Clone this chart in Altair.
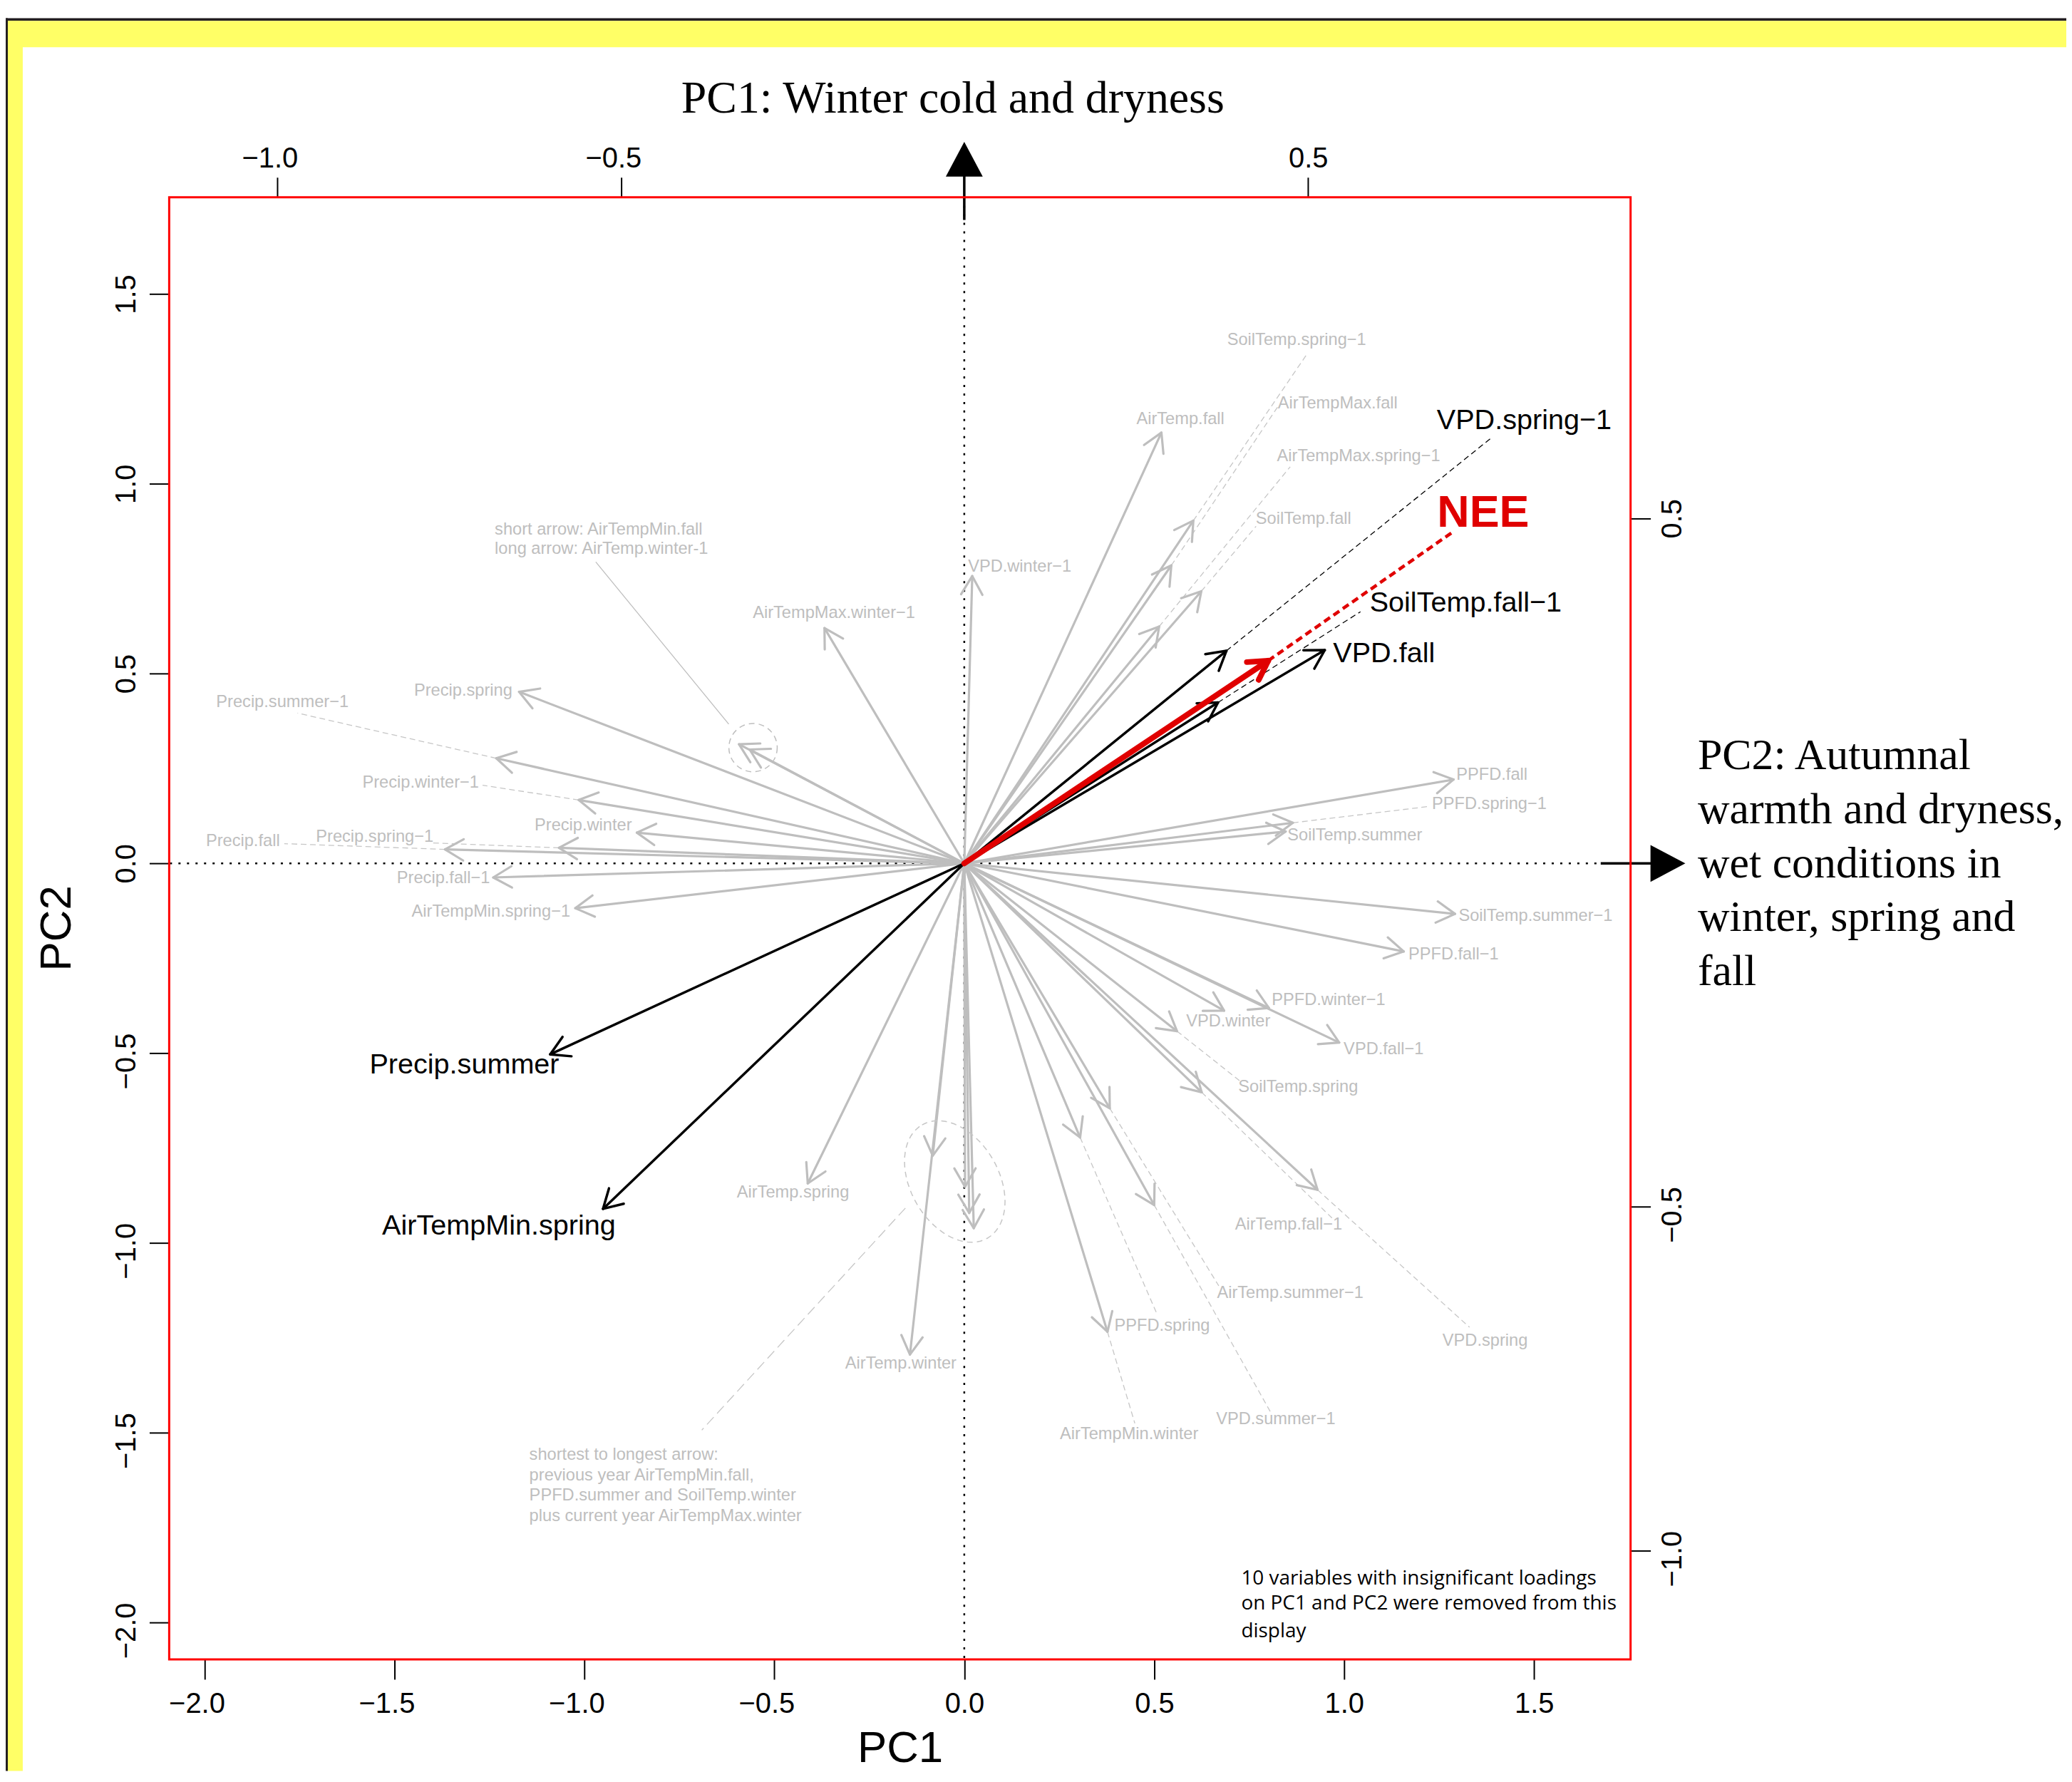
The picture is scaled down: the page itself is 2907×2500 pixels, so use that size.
import numpy as np
import pandas as pd
import altair as alt

GRAY = "#BEBEBE"
DASH_GRAY = "#C6C6C6"
RED = "#E00000"

# ---------------- loadings (arrow tips) ----------------
GRAY_NAMES = [
    "AirTemp.fall", "SoilTemp.spring-1", "AirTempMax.fall", "SoilTemp.fall", "AirTempMax.spring-1",
    "VPD.winter-1", "AirTempMax.winter-1", "AirTempMin.fall", "AirTemp.winter-1",
    "Precip.spring", "Precip.summer-1", "Precip.winter-1", "Precip.winter", "Precip.spring-1",
    "Precip.fall", "Precip.fall-1", "AirTempMin.spring-1",
    "PPFD.fall", "PPFD.spring-1", "SoilTemp.summer", "SoilTemp.summer-1", "PPFD.fall-1",
    "VPD.winter", "PPFD.winter-1", "VPD.fall-1", "SoilTemp.spring", "AirTemp.fall-1", "VPD.spring",
    "AirTemp.summer-1", "VPD.summer-1", "PPFD.spring", "AirTempMin.winter",
    "AirTemp.spring", "AirTemp.winter",
    "AirTempMin.fall-1", "PPFD.summer-1", "SoilTemp.winter-1", "AirTempMax.winter",
]
GRAY_PC1 = [0.519, 0.603, 0.545, 0.624, 0.513,
            0.021, -0.368, -0.565, -0.593,
            -1.172, -1.232, -1.015, -0.862, -1.067,
            -1.367, -1.240, -1.024,
            1.288, 0.865, 0.846, 1.292, 1.157,
            0.684, 0.802, 0.987, 0.560, 0.625, 0.930,
            0.383, 0.500, 0.305, 0.377,
            -0.412, -0.143,
            -0.083, 0.002, 0.013, 0.025]
GRAY_PC2 = [1.135, 0.903, 0.785, 0.717, 0.624,
            0.757, 0.620, 0.300, 0.314,
            0.452, 0.277, 0.167, 0.081, 0.041,
            0.037, -0.037, -0.118,
            0.221, 0.107, 0.084, -0.133, -0.232,
            -0.388, -0.381, -0.472, -0.442, -0.603, -0.860,
            -0.645, -0.900, -0.722, -1.234,
            -0.843, -1.294,
            -0.770, -0.852, -0.921, -0.961]

BLACK_NAMES = ["VPD.spring-1", "SoilTemp.fall-1", "VPD.fall", "Precip.summer", "AirTempMin.spring"]
BLACK_PC1 = [0.690, 0.668, 0.949, -1.090, -0.951]
BLACK_PC2 = [0.560, 0.424, 0.562, -0.503, -0.910]

RED_NAMES = ["NEE"]
RED_PC1 = [0.800]
RED_PC2 = [0.534]

# dashed leaders: from the arrow tip out to the label
EXT_NAMES = ["SoilTemp.spring-1", "AirTempMax.fall", "AirTempMax.spring-1", "SoilTemp.fall",
             "Precip.summer-1", "Precip.winter-1", "Precip.spring-1", "Precip.fall",
             "PPFD.spring-1", "SoilTemp.spring", "AirTemp.fall-1", "VPD.spring",
             "AirTemp.summer-1", "VPD.summer-1", "PPFD.spring", "AirTempMin.winter",
             "VPD.spring-1", "SoilTemp.fall-1", "NEE"]
EXT_PC1 = [0.903, 0.826, 0.858, 0.768,
           -1.755, -1.268, -1.404, -1.790,
           1.223, 0.728, 0.968, 1.330,
           0.670, 0.806, 0.509, 0.449,
           1.391, 1.043, 1.283]
EXT_PC2 = [1.343, 1.204, 1.045, 0.888,
           0.396, 0.206, 0.054, 0.052,
           0.150, -0.575, -0.934, -1.222,
           -1.113, -1.445, -1.191, -1.475,
           1.124, 0.663, 0.871]
EXT_GROUP = ["gray"] * 16 + ["black", "black", "red"]

# ---------------- labels ----------------
GRAY_LABELS = ["SoilTemp.spring\u22121", "AirTempMax.fall", "AirTemp.fall", "AirTempMax.spring\u22121",
               "SoilTemp.fall", "VPD.winter\u22121", "AirTempMax.winter\u22121", "Precip.spring",
               "Precip.summer\u22121", "PPFD.fall", "Precip.winter\u22121", "PPFD.spring\u22121",
               "Precip.winter", "SoilTemp.summer", "Precip.fall", "Precip.spring\u22121",
               "Precip.fall\u22121", "SoilTemp.summer\u22121", "AirTempMin.spring\u22121", "PPFD.fall\u22121",
               "PPFD.winter\u22121", "VPD.winter", "VPD.fall\u22121", "SoilTemp.spring",
               "AirTemp.spring", "AirTemp.fall\u22121", "AirTemp.summer\u22121", "PPFD.spring",
               "VPD.spring", "AirTemp.winter", "VPD.summer\u22121", "AirTempMin.winter"]
GRAY_LABEL_X = [0.875, 0.983, 0.569, 1.038,
                0.893, 0.146, -0.343, -1.319,
                -1.795, 1.389, -1.431, 1.382,
                -1.003, 1.028, -1.899, -1.552,
                -1.371, 1.504, -1.246, 1.288,
                0.959, 0.695, 1.104, 0.879,
                -0.451, 0.854, 0.858, 0.521,
                1.371, -0.167, 0.820, 0.434]
GRAY_LABEL_Y = [1.378, 1.212, 1.170, 1.073,
                0.907, 0.781, 0.659, 0.454,
                0.424, 0.234, 0.212, 0.157,
                0.100, 0.073, 0.058, 0.070,
                -0.038, -0.138, -0.128, -0.239,
                -0.360, -0.416, -0.489, -0.589,
                -0.867, -0.951, -1.131, -1.218,
                -1.257, -1.318, -1.464, -1.503]

BLACK_LABELS = ["VPD.spring\u22121", "SoilTemp.fall\u22121", "VPD.fall", "Precip.summer", "AirTempMin.spring"]
BLACK_LABEL_X = [1.474, 1.320, 1.105, -1.316, -1.225]
BLACK_LABEL_Y = [1.167, 0.686, 0.553, -0.531, -0.955]

RED_LABELS = ["NEE"]
RED_LABEL_X = [1.366]
RED_LABEL_Y = [0.923]

# ---------------- notes ----------------
NOTE_TOP = ["short arrow: AirTempMin.fall", "long arrow: AirTemp.winter-1"]
NOTE_TOP_X = [-1.236, -1.236]
NOTE_TOP_Y = [0.880, 0.828]

NOTE_LOW = ["shortest to longest arrow:", "previous year AirTempMin.fall,",
            "PPFD.summer and SoilTemp.winter", "plus current year AirTempMax.winter"]
NOTE_LOW_X = [-1.145] * 4
NOTE_LOW_Y = [-1.558, -1.612, -1.666, -1.720]

NOTE_BOX = ["10 variables with insignificant loadings", "on PC1 and PC2 were removed from this", "display"]
NOTE_BOX_X = [0.729] * 3
NOTE_BOX_Y = [-1.884, -1.951, -2.024]

LEADER_X1 = [-0.970, -0.155]
LEADER_Y1 = [0.794, -0.908]
LEADER_X2 = [-0.620, -0.691]
LEADER_Y2 = [0.367, -1.493]

CIRCLE_PC1 = [-0.556]
CIRCLE_PC2 = [0.305]
ELLIPSE_PC1 = [-0.025]
ELLIPSE_PC2 = [-0.838]

PC_TICKS = [-2.0, -1.5, -1.0, -0.5, 0.0, 0.5, 1.0, 1.5]
SEC_TICKS = [-1.0, -0.5, 0.5]
X_DOMAIN = [-2.093, 1.754]
Y_DOMAIN = [-2.097, 1.755]
TOP_DOMAIN = [-1.1576, 0.9693]
RIGHT_DOMAIN = [-1.1577, 0.9667]

RIGHT_TITLE = ["PC2: Autumnal", "warmth and dryness,", "wet conditions in", "winter, spring and", "fall"]

# ---------------- layout ----------------
W = 2056
H = 2057
PAD = {"left": 230, "top": 266, "right": 613, "bottom": 157}

XS = alt.Scale(domain=X_DOMAIN, nice=False, zero=False)
YS = alt.Scale(domain=Y_DOMAIN, nice=False, zero=False)

common_ax = dict(format=".1f", tickSize=28, tickWidth=2, tickColor="black", domain=False, grid=False,
                 labelFont="Liberation Sans", labelFontSize=40, labelColor="black",
                 labelFlush=False, labelOverlap=False, labelBound=False,
                 titleColor="black", titleFontWeight="normal")

NEG_LEFT = {"condition": {"test": "datum.value < 0", "value": -11}, "value": 0}
NEG_DOWN = {"condition": {"test": "datum.value < 0", "value": 11}, "value": 0}

XAX = alt.Axis(values=PC_TICKS, labelBaseline="alphabetic", labelPadding=47, labelOffset=NEG_LEFT,
               title="PC1", titleFont="Liberation Sans", titleFontSize=62,
               titleBaseline="alphabetic", titleAlign="center", titleX=1028, titleY=144, **common_ax)
YAX = alt.Axis(values=PC_TICKS, labelAngle=270, labelAlign="center", labelBaseline="alphabetic",
               labelPadding=20, labelOffset=NEG_DOWN,
               title="PC2", titleFont="Liberation Sans", titleFontSize=62,
               titleAngle=270, titleAlign="center", titleBaseline="alphabetic",
               titleX=-139, titleY=1028, **common_ax)


def X(f):
    return alt.X(f, type="quantitative", scale=XS, axis=XAX)


def Y(f):
    return alt.Y(f, type="quantitative", scale=YS, axis=YAX)


VHEAD = "M-0.577,1L0,0L0.577,1"
BIGHEAD = "M0,0L1.06,2L-1.06,2Z"
_t = np.linspace(0, 2 * np.pi, 73)[:-1]
ELLIPSE_SHAPE = "M" + "L".join(f"{0.674*np.sin(a):.4f},{-np.cos(a):.4f}" for a in _t) + "Z"


def arrows_df(names, xs, ys):
    d = pd.DataFrame({"name": names, "tx": xs, "ty": ys})
    d["x0"] = 0.0
    d["y0"] = 0.0
    d["ang"] = (np.degrees(np.arctan2(d["tx"], d["ty"])) + 360) % 360
    return d


gray_df = arrows_df(GRAY_NAMES, GRAY_PC1, GRAY_PC2)
black_df = arrows_df(BLACK_NAMES, BLACK_PC1, BLACK_PC2)
red_df = arrows_df(RED_NAMES, RED_PC1, RED_PC2)
all_tips = pd.concat([gray_df, black_df, red_df]).set_index("name")

ext_df = pd.DataFrame({"name": EXT_NAMES, "ex": EXT_PC1, "ey": EXT_PC2, "grp": EXT_GROUP})
ext_df["tx"] = ext_df["name"].map(all_tips["tx"])
ext_df["ty"] = ext_df["name"].map(all_tips["ty"])


def arrow_layers(df, color, width):
    shaft = alt.Chart(df).mark_rule(color=color, strokeWidth=width, strokeCap="round").encode(
        x=X("x0"), y=Y("y0"), x2="tx", y2="ty")
    head = alt.Chart(df).mark_point(shape=VHEAD, size=2704, filled=False, color=color, strokeWidth=width,
                                    opacity=1, strokeCap="round", strokeJoin="round").encode(
        x=X("tx"), y=Y("ty"), angle=alt.Angle("ang:Q", scale=None))
    return [shaft, head]


def ext_layer(grp, color, width, dash):
    return alt.Chart(ext_df[ext_df["grp"] == grp]).mark_rule(
        color=color, strokeWidth=width, strokeDash=dash).encode(x=X("tx"), y=Y("ty"), x2="ex", y2="ey")


def text_layer(texts, xs, ys, color, size, weight="normal", align="center", font="Liberation Sans"):
    d = pd.DataFrame({"t": texts, "lx": xs, "ly": ys})
    return alt.Chart(d).mark_text(color=color, fontSize=size, font=font, fontWeight=weight,
                                  align=align, baseline="middle").encode(x=X("lx"), y=Y("ly"), text="t")


one = pd.DataFrame({"x0": [0.0], "y0": [0.0]})


def rect(x1, x2, y1, y2, color):
    return alt.Chart(one).mark_rect(color=color).encode(
        x=alt.value(x1), x2=alt.value(x2), y=alt.value(y1), y2=alt.value(y2))


# frame decoration (outside the plot box)
frame = [
    rect(-230, W + PAD["right"], -252, -248, "#231f20"),
    rect(-230, -227, -252, H + PAD["bottom"], "#231f20"),
    rect(-227, W + PAD["right"], -248, -211, "#FFFF66"),
    rect(-227, -206, -248, H + PAD["bottom"], "#FFFF66"),
]

box = alt.Chart(one).mark_rect(filled=False, stroke="#FF0000", strokeWidth=3).encode(
    x=alt.value(0), x2=alt.value(W), y=alt.value(0), y2=alt.value(H))

dotted = [
    alt.Chart(one).mark_rule(color="black", strokeWidth=2.5, strokeDash=[3, 9]).encode(x=X("x0")),
    alt.Chart(one).mark_rule(color="black", strokeWidth=2.5, strokeDash=[3, 9]).encode(y=Y("y0")),
]

big_arrows = [
    alt.Chart(one).mark_rule(color="black", strokeWidth=3.5).encode(
        x=X("x0"), y=alt.value(-34), y2=alt.value(32)),
    alt.Chart(one).mark_point(shape=BIGHEAD, size=2401, filled=True, color="black", opacity=1,
                              angle=0, strokeWidth=0).encode(x=X("x0"), y=alt.value(-78)),
    alt.Chart(one).mark_rule(color="black", strokeWidth=3.5).encode(
        y=Y("y0"), x=alt.value(2014), x2=alt.value(2086)),
    alt.Chart(one).mark_point(shape=BIGHEAD, size=2401, filled=True, color="black", opacity=1,
                              angle=90, strokeWidth=0).encode(y=Y("y0"), x=alt.value(2133)),
]

leader_df = pd.DataFrame({"x1": LEADER_X1, "y1": LEADER_Y1, "x2": LEADER_X2, "y2": LEADER_Y2})
leaders = [
    alt.Chart(leader_df.iloc[[0]]).mark_rule(color=GRAY, strokeWidth=1.3).encode(
        x=X("x1"), y=Y("y1"), x2="x2", y2="y2"),
    alt.Chart(leader_df.iloc[[1]]).mark_rule(color=DASH_GRAY, strokeWidth=1.3, strokeDash=[14, 7]).encode(
        x=X("x1"), y=Y("y1"), x2="x2", y2="y2"),
]

shapes = [
    alt.Chart(pd.DataFrame({"cx": CIRCLE_PC1, "cy": CIRCLE_PC2})).mark_point(
        shape="circle", size=4624, filled=False, color=GRAY, strokeWidth=1.5, strokeDash=[8, 6],
        opacity=1).encode(x=X("cx"), y=Y("cy")),
    alt.Chart(pd.DataFrame({"cx": ELLIPSE_PC1, "cy": ELLIPSE_PC2})).mark_point(
        shape=ELLIPSE_SHAPE, size=184 * 184, angle=330, filled=False, color=DASH_GRAY, strokeWidth=1.5,
        strokeDash=[8, 6], opacity=1).encode(x=X("cx"), y=Y("cy")),
]

layers = (frame + dotted + big_arrows
          + [ext_layer("gray", DASH_GRAY, 1.3, [8, 5])]
          + arrow_layers(gray_df, GRAY, 3.2)
          + leaders + shapes
          + [ext_layer("black", "black", 1.3, [8, 5])]
          + arrow_layers(black_df, "black", 3.5)
          + [ext_layer("red", RED, 4.5, [10, 6])]
          + arrow_layers(red_df, RED, 8)
          + [
              text_layer(GRAY_LABELS, GRAY_LABEL_X, GRAY_LABEL_Y, GRAY, 23.7),
              text_layer(BLACK_LABELS, BLACK_LABEL_X, BLACK_LABEL_Y, "black", 39.7),
              text_layer(RED_LABELS, RED_LABEL_X, RED_LABEL_Y, RED, 63, weight="bold"),
              text_layer(NOTE_TOP, NOTE_TOP_X, NOTE_TOP_Y, GRAY, 23.7, align="left"),
              text_layer(NOTE_LOW, NOTE_LOW_X, NOTE_LOW_Y, GRAY, 23.7, align="left"),
              text_layer(NOTE_BOX, NOTE_BOX_X, NOTE_BOX_Y, "black", 28, align="left", font="Open Sans"),
              box,
          ])

primary = alt.layer(*layers)

TOPAX = alt.Axis(orient="top", values=SEC_TICKS, labelBaseline="alphabetic", labelPadding=14,
                 labelOffset=NEG_LEFT,
                 title="PC1: Winter cold and dryness", titleFont="Liberation Serif", titleFontSize=64,
                 titleAngle=0, titleAlign="center", titleBaseline="alphabetic", titleX=1102, titleY=-120,
                 **common_ax)
RIGHTAX = alt.Axis(orient="right", values=SEC_TICKS, labelAngle=270, labelAlign="center",
                   labelBaseline="alphabetic", labelPadding=43, labelOffset=NEG_DOWN,
                   title=RIGHT_TITLE, titleFont="Liberation Serif", titleFontSize=62, titleLineHeight=76,
                   titleAngle=0, titleAlign="left", titleBaseline="alphabetic", titleX=94, titleY=804,
                   **common_ax)

secondary = alt.Chart(pd.DataFrame({"u": [0.0], "v": [0.0]})).mark_point(opacity=0).encode(
    x=alt.X("u", type="quantitative", scale=alt.Scale(domain=TOP_DOMAIN, nice=False, zero=False), axis=TOPAX),
    y=alt.Y("v", type="quantitative", scale=alt.Scale(domain=RIGHT_DOMAIN, nice=False, zero=False), axis=RIGHTAX),
)

chart = alt.layer(primary, secondary).resolve_scale(x="independent", y="independent").properties(
    width=W, height=H, padding=PAD, autosize=alt.AutoSizeParams(type="none"),
).configure_view(strokeWidth=0).configure(background="white")

chart.save("out.html", embed_options={"renderer": "svg", "actions": False})
